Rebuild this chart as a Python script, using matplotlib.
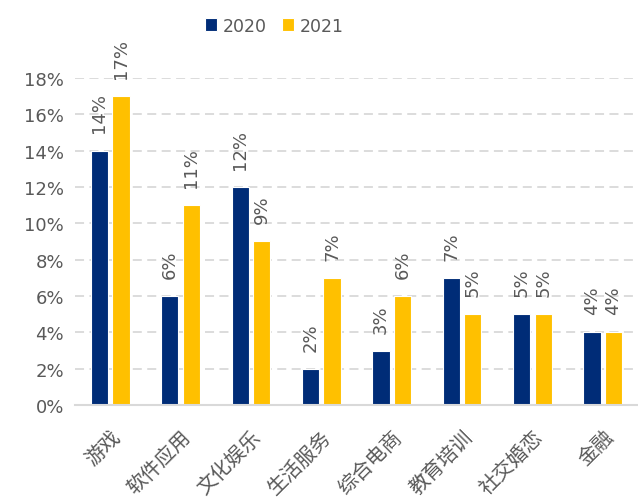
import matplotlib
matplotlib.use("Agg")
import matplotlib.pyplot as plt
import numpy as np

plt.rcParams['font.family'] = ['Noto Sans CJK SC', 'DejaVu Sans']

# data
categories = ['游戏', '软件应用', '文化娱乐', '生活服务', '综合电商', '教育培训', '社交婚恋', '金融']
vals_2020 = [14, 6, 12, 2, 3, 7, 5, 4]
vals_2021 = [17, 11, 9, 7, 6, 5, 5, 4]
series_names = ['2020', '2021']
yticks = [0, 2, 4, 6, 8, 10, 12, 14, 16, 18]

navy = '#002C77'
gold = '#FFC000'
grey = '#595959'

fig = plt.figure(figsize=(6.38, 5.02), dpi=100)
ax = fig.add_axes([0.1176, 0.191, 0.8824, 0.652])

x = np.arange(len(categories))
w = 0.245
b1 = ax.bar(x - w/2 - 0.03, vals_2020, w, color=navy, edgecolor='white', linewidth=0.8, label=series_names[0], zorder=3)
b2 = ax.bar(x + w/2 + 0.03, vals_2021, w, color=gold, edgecolor='white', linewidth=0.8, label=series_names[1], zorder=3)

for bars in (b1, b2):
    for r in bars:
        ax.annotate('%d%%' % r.get_height(), (r.get_x() + r.get_width()/2, r.get_height()),
                    xytext=(0, 13), textcoords='offset points', rotation=90,
                    ha='center', va='bottom', fontsize=13, color=grey, family='DejaVu Sans')

ax.set_xlim(-0.5, len(categories) - 0.5)
ax.set_ylim(0, 18)
ax.set_yticks(yticks)
ax.set_yticklabels(['%d%%' % t for t in yticks], fontsize=13, color=grey, family='DejaVu Sans')
ax.set_xticks(x)
ax.set_xticklabels(categories, rotation=45, ha='right', va='top', rotation_mode='anchor',
                   fontsize=14.5, color=grey)
ax.tick_params(axis='both', length=0)
ax.tick_params(axis='x', pad=15)
ax.tick_params(axis='y', pad=8)

ax.grid(axis='y', color='#D9D9D9', linestyle=(0, (5, 3)), linewidth=1.3, zorder=0)
for s in ['top', 'right', 'left']:
    ax.spines[s].set_visible(False)
ax.spines['bottom'].set_color('#D9D9D9')
ax.spines['bottom'].set_linewidth(1.5)
ax.spines['bottom'].set_zorder(4)

leg = fig.legend(loc='center', bbox_to_anchor=(0.43, 0.947), ncol=2, frameon=False,
                 handlelength=0.7, handleheight=0.7, handletextpad=0.3,
                 columnspacing=0.9, prop={'family': 'DejaVu Sans', 'size': 12.5})
for t in leg.get_texts():
    t.set_color(grey)

fig.savefig('out.png', dpi=100)
